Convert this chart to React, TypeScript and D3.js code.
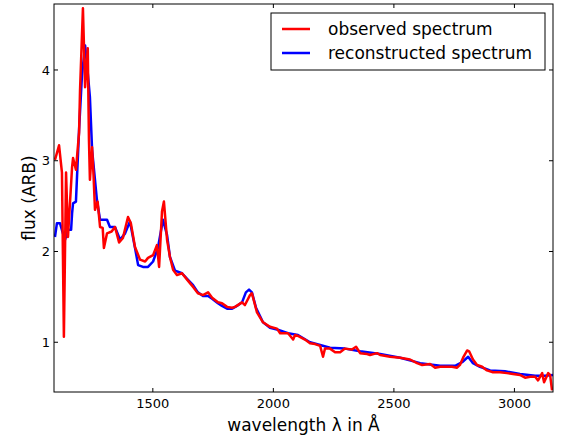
import React from "react";
import * as d3 from "d3";

const obsWave = [1094,1111,1123,1131,1140,1148,1165,1169,1181,1194,1198,1210,1219,1230,1235,1239,1248,1254,1260,1271,1281,1292,1297,1310,1329,1343,1360,1376,1397,1409,1426,1447,1468,1480,1501,1517,1526,1538,1546,1559,1571,1584,1600,1621,1642,1667,1687,1708,1729,1746,1770,1787,1808,1829,1841,1870,1882,1903,1911,1932,1957,1986,2015,2028,2061,2082,2090,2102,2131,2152,2173,2194,2206,2214,2235,2256,2277,2297,2326,2343,2360,2389,2401,2430,2443,2484,2526,2567,2596,2617,2650,2671,2692,2721,2741,2762,2774,2787,2804,2812,2828,2845,2866,2886,2911,2940,2969,2994,3023,3044,3065,3086,3098,3115,3123,3140,3148,3156];
const obsFlux = [3.01,3.17,2.87,1.06,2.87,2.16,2.93,3.03,2.90,3.31,3.78,4.68,3.81,4.24,3.23,2.79,3.15,2.84,2.46,2.55,2.27,2.26,2.04,2.20,2.22,2.27,2.10,2.15,2.38,2.31,2.05,1.91,1.89,1.93,1.96,2.07,1.83,2.44,2.55,2.13,1.94,1.80,1.74,1.76,1.69,1.61,1.54,1.52,1.55,1.49,1.44,1.43,1.39,1.38,1.39,1.44,1.41,1.52,1.54,1.33,1.22,1.17,1.15,1.10,1.10,1.03,1.08,1.07,1.03,0.99,0.98,0.96,0.84,0.93,0.93,0.89,0.89,0.93,0.92,0.95,0.88,0.87,0.86,0.88,0.86,0.84,0.83,0.81,0.77,0.75,0.76,0.72,0.73,0.73,0.73,0.72,0.75,0.83,0.91,0.90,0.81,0.75,0.73,0.69,0.67,0.67,0.66,0.65,0.64,0.61,0.62,0.62,0.58,0.66,0.56,0.66,0.64,0.47];

const recWave = [1094,1102,1115,1127,1136,1148,1161,1165,1169,1181,1194,1206,1219,1231,1239,1248,1260,1268,1281,1293,1310,1322,1343,1364,1385,1405,1426,1439,1459,1480,1501,1521,1542,1559,1571,1592,1621,1642,1667,1687,1708,1729,1746,1770,1787,1808,1829,1849,1870,1886,1899,1911,1928,1957,1986,2015,2061,2102,2152,2194,2235,2297,2360,2443,2526,2609,2692,2754,2783,2808,2828,2857,2899,2961,3023,3086,3127,3160];
const recFlux = [2.16,2.31,2.31,2.20,2.13,2.24,2.24,2.42,2.53,2.55,3.34,3.94,4.27,3.94,3.70,3.12,2.79,2.57,2.35,2.35,2.35,2.27,2.27,2.13,2.20,2.33,2.04,1.85,1.83,1.83,1.89,2.04,2.35,2.18,1.94,1.79,1.76,1.70,1.63,1.55,1.51,1.51,1.48,1.43,1.40,1.37,1.37,1.40,1.44,1.55,1.58,1.55,1.38,1.22,1.16,1.14,1.10,1.08,1.00,0.97,0.94,0.93,0.90,0.87,0.83,0.77,0.74,0.74,0.78,0.84,0.77,0.73,0.69,0.68,0.65,0.63,0.63,0.64];

const xTicks = [1500, 2000, 2500, 3000];
const yTicks = [1, 2, 3, 4];
const legendItems = ["observed spectrum", "reconstructed spectrum"];

const W = 563, H = 441;
const L = 54, R = 553, T = 4, B = 392;
const FONT = "'DejaVu Sans', sans-serif";

export default function App() {
  const x = d3.scaleLinear().domain([1090, 3160]).range([L, R]);
  const y = d3.scaleLinear().domain([0.452, 4.727]).range([B, T]);
  const obs = obsWave.map((w, i) => [w, obsFlux[i]] as [number, number]);
  const rec = recWave.map((w, i) => [w, recFlux[i]] as [number, number]);
  const line = d3.line<[number, number]>().x(d => x(d[0])).y(d => y(d[1]));
  const colors = ["#ff0000", "#0000ff"];
  return (
    <svg width={W} height={H} style={{ position: "absolute", left: 0, top: 0, background: "#fff" }}>
      <defs>
        <clipPath id="plot"><rect x={L} y={T} width={R - L} height={B - T} /></clipPath>
      </defs>
      <g clipPath="url(#plot)" fill="none" strokeLinejoin="round">
        <path d={line(rec) || ""} stroke="#0000ff" strokeWidth={2.5} />
        <path d={line(obs) || ""} stroke="#ff0000" strokeWidth={2.5} />
      </g>
      <rect x={L} y={T} width={R - L} height={B - T} fill="none" stroke="#000" strokeWidth={1} />
      {xTicks.map(t => (
        <g key={"x" + t}>
          <line x1={x(t)} x2={x(t)} y1={B} y2={B - 4} stroke="#000" />
          <line x1={x(t)} x2={x(t)} y1={T} y2={T + 4} stroke="#000" />
          <text x={x(t)} y={408} textAnchor="middle" fontFamily={FONT} fontSize={13}>{t}</text>
        </g>
      ))}
      {yTicks.map(t => (
        <g key={"y" + t}>
          <line x1={L} x2={L + 4} y1={y(t)} y2={y(t)} stroke="#000" />
          <line x1={R} x2={R - 4} y1={y(t)} y2={y(t)} stroke="#000" />
          <text x={50} y={y(t) + 4.7} textAnchor="end" fontFamily={FONT} fontSize={13}>{t}</text>
        </g>
      ))}
      <text x={(L + R) / 2} y={431} textAnchor="middle" fontFamily={FONT} fontSize={17}>wavelength λ in Å</text>
      <text transform={`translate(35,${(T + B) / 2}) rotate(-90)`} textAnchor="middle" fontFamily={FONT} fontSize={17}>flux (ARB)</text>
      <rect x={271} y={13} width={274} height={57} fill="#fff" stroke="#000" strokeWidth={1} />
      {legendItems.map((s, i) => (
        <g key={s}>
          <line x1={282} x2={310} y1={29 + i * 24} y2={29 + i * 24} stroke={colors[i]} strokeWidth={2.5} />
          <text x={328} y={35 + i * 24} fontFamily={FONT} fontSize={17}>{s}</text>
        </g>
      ))}
    </svg>
  );
}
